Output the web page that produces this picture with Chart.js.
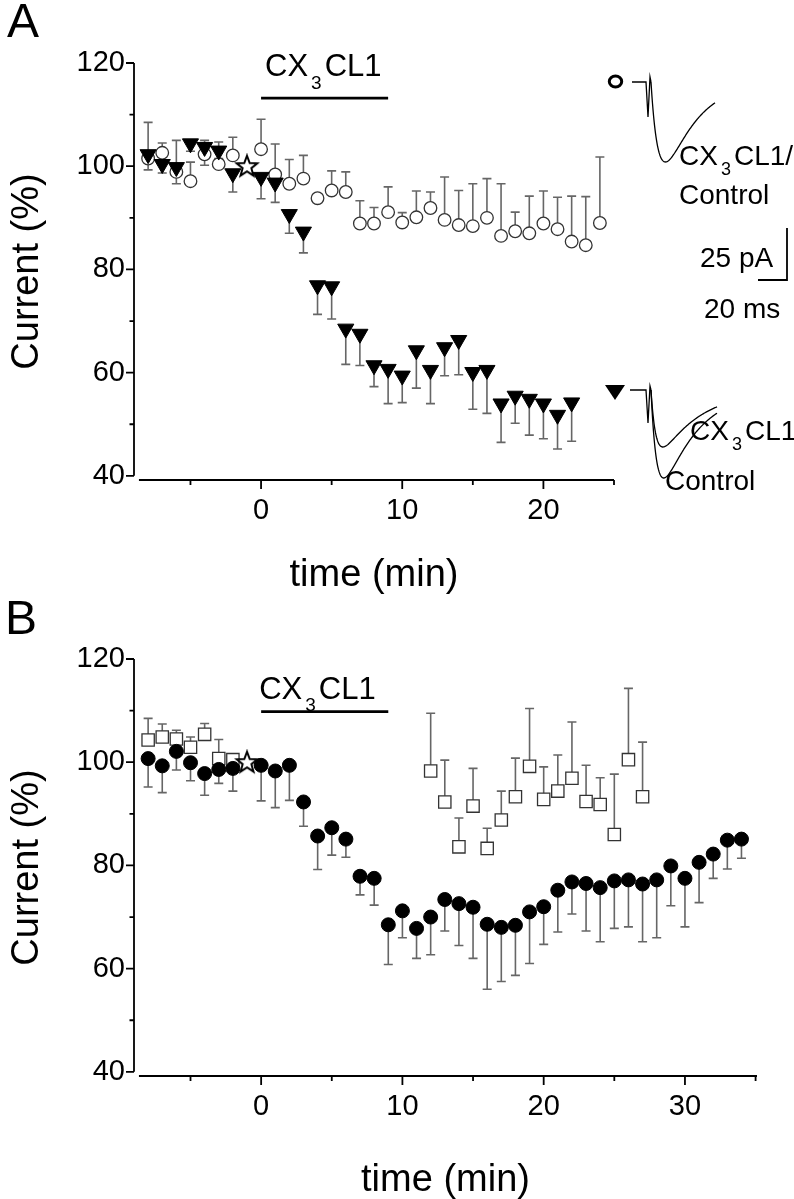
<!DOCTYPE html>
<html>
<head>
<meta charset="utf-8">
<script src="https://cdn.jsdelivr.net/npm/chart.js@4.4.1/dist/chart.umd.min.js"></script>
<style>
html, body { margin: 0; padding: 0; background: #fff; }
#wrap { position: relative; width: 794px; height: 1199px; overflow: hidden; }
.panel { position: absolute; left: 0; width: 794px; }
#panelA { top: 0; height: 620px; }
#panelB { top: 590px; height: 609px; }
</style>
</head>
<body>
<div id="wrap">
  <div class="panel" id="panelA"><canvas id="chartA"></canvas></div>
  <div class="panel" id="panelB"><canvas id="chartB"></canvas></div>
</div>
<script>
// ---- data ----
// panel A: filled triangles (error bars down)
const triTime = [-8,-7,-6,-5,-4,-3,-2,0,1,2,3,4,5,6,7,8,9,10,11,12,13,14,15,16,17,18,19,20,21,22];
const triMean = [102.3,100.4,99.8,104.4,103.7,103.0,98.6,97.9,96.8,90.7,87.3,76.9,76.7,68.5,67.5,61.4,60.7,59.4,64.3,60.5,64.9,66.3,60.1,60.5,54.0,55.5,54.9,54.0,51.8,54.2];
const triErr  = [3.0,1.7,3.2,1.5,3.5,1.5,3.6,4.2,3.8,3.7,4.1,5.6,6.3,6.9,6.1,4.1,6.7,5.2,7.3,6.5,5.5,6.7,7.2,8.4,7.5,5.3,7.0,6.8,6.6,7.5];

// panel A: open circles (error bars up)
const ringTime = [-8,-7,-6,-5,-4,-3,-2,0,1,2,3,4,5,6,7,8,9,10,11,12,13,14,15,16,17,18,19,20,21,22,23,24];
const ringMean = [101.5,102.6,98.9,97.1,102.3,100.4,102.1,103.3,98.4,96.6,97.6,93.8,95.3,95.0,88.9,88.9,91.1,89.1,90.1,91.9,89.6,88.6,88.4,90.0,86.5,87.4,87.0,88.9,87.8,85.4,84.7,89.0];
const ringErr  = [7.0,1.9,6.1,3.7,2.7,4.3,3.5,5.8,5.9,4.7,4.5,0.8,3.8,3.9,4.4,3.1,4.9,1.9,5.1,3.1,8.3,6.7,8.2,7.6,10.1,3.7,7.2,6.3,6.2,8.8,9.4,12.8];

// panel B: filled circles (error bars down)
const dotTime = [-8,-7,-6,-5,-4,-3,-2,0,1,2,3,4,5,6,7,8,9,10,11,12,13,14,15,16,17,18,19,20,21,22,23,24,25,26,27,28,29,30,31,32,33,34];
const dotMean = [100.7,99.3,102.1,99.9,97.8,98.6,98.8,99.4,98.3,99.4,92.3,85.7,87.3,85.1,77.9,77.5,68.5,71.2,67.8,70.0,73.4,72.6,71.9,68.6,68.0,68.4,71.0,72.0,75.2,76.8,76.5,75.7,77.0,77.2,76.4,77.2,79.9,77.5,80.6,82.2,84.9,85.1];
const dotErr  = [5.5,5.2,3.6,3.5,4.2,2.7,4.4,6.9,7.1,6.8,4.7,6.5,5.3,3.5,3.6,5.2,7.7,5.2,5.8,7.3,6.1,8.1,9.9,12.6,10.5,9.7,10.0,7.3,8.1,6.2,9.2,10.5,9.2,9.1,11.2,11.2,7.7,9.4,7.8,4.7,5.6,3.7];

// panel B: open squares (error bars up)
const boxTime = [-8,-7,-6,-5,-4,-3,-2,12,13,14,15,16,17,18,19,20,21,22,23,24,25,26,27];
const boxMean = [104.3,104.9,104.5,102.9,105.4,100.7,100.5,98.3,92.3,83.6,91.5,83.3,88.8,93.3,99.2,92.8,94.4,96.9,92.4,91.8,86.0,100.5,93.3];
const boxErr  = [4.2,2.5,1.7,2.0,2.1,3.7,0,11.2,8.1,5.6,7.3,3.9,5.6,7.5,11.2,6.3,7.0,10.9,7.0,5.2,11.7,13.8,10.6];

// normalisation point (star)
const starTime = [-1];
const starMean = [100];

// CX3CL1 application window (min)
const drugOn = [0, 9];

// ticks
const yTicks  = [40, 60, 80, 100, 120];
const yMinor  = [50, 70, 90, 110];
const xTicksA = [0, 10, 20];
const xMinorA = [-5, 5, 15, 25];
const xTicksB = [0, 10, 20, 30];
const xMinorB = [-5, 5, 15, 25, 35];

const FONT = "'Liberation Sans', Arial, Helvetica, sans-serif";

const pts = (t, v) => t.map((x, i) => ({ x, y: v[i] }));

// outlined five point star used as marker
function makeStar() {
  const c = document.createElement('canvas');
  c.width = 26; c.height = 26;
  const g = c.getContext('2d');
  g.beginPath();
  for (let k = 0; k < 10; k++) {
    const r = k % 2 ? 4.6 : 11;
    const a = -Math.PI / 2 + k * Math.PI / 5;
    g.lineTo(13 + r * Math.cos(a), 13.5 + r * Math.sin(a));
  }
  g.closePath();
  g.fillStyle = '#fff'; g.fill();
  g.lineWidth = 2; g.strokeStyle = '#000'; g.stroke();
  return c;
}
const star = makeStar();

// error bars, drawn under the markers
const errorBars = {
  id: 'errorBars',
  beforeDatasetsDraw(chart) {
    const { ctx, scales: { x, y } } = chart;
    ctx.save();
    ctx.strokeStyle = '#666';
    ctx.lineWidth = 1.6;
    chart.data.datasets.forEach(ds => {
      if (!ds.err) return;
      ds.data.forEach((p, i) => {
        const e = ds.err[i];
        if (!e) return;
        const px = x.getPixelForValue(p.x);
        const p0 = y.getPixelForValue(p.y);
        const p1 = y.getPixelForValue(p.y + ds.errDir * e);
        ctx.beginPath();
        ctx.moveTo(px, p0); ctx.lineTo(px, p1);
        ctx.moveTo(px - 4.5, p1); ctx.lineTo(px + 4.5, p1);
        ctx.stroke();
      });
    });
    ctx.restore();
  }
};

// Origin-style detached axes with major/minor ticks
const offsetAxes = {
  id: 'offsetAxes',
  afterDraw(chart, args, o) {
    const { ctx, chartArea: a, scales: { x, y } } = chart;
    ctx.save();
    ctx.strokeStyle = '#000';
    ctx.lineWidth = 1.8;
    ctx.beginPath();
    ctx.moveTo(a.left, y.getPixelForValue(120));
    ctx.lineTo(a.left, y.getPixelForValue(40));
    yTicks.forEach(v => { const p = y.getPixelForValue(v); ctx.moveTo(a.left, p); ctx.lineTo(a.left - 8, p); });
    yMinor.forEach(v => { const p = y.getPixelForValue(v); ctx.moveTo(a.left, p); ctx.lineTo(a.left - 4.5, p); });
    ctx.moveTo(x.getPixelForValue(o.from), a.bottom);
    ctx.lineTo(x.getPixelForValue(o.to), a.bottom);
    o.major.forEach(v => { const p = x.getPixelForValue(v); ctx.moveTo(p, a.bottom); ctx.lineTo(p, a.bottom + 9); });
    o.minor.forEach(v => { const p = x.getPixelForValue(v); ctx.moveTo(p, a.bottom); ctx.lineTo(p, a.bottom + 5); });
    ctx.stroke();
    ctx.restore();
  }
};

// text runs like CX + sub 3 + CL1
function subText(ctx, x, y, big, sub, rest, size, subSize, drop) {
  ctx.font = size + 'px ' + FONT;
  ctx.fillText(big, x, y);
  x += ctx.measureText(big).width + 3;
  ctx.font = subSize + 'px ' + FONT;
  ctx.fillText(sub, x, y + drop);
  x += ctx.measureText(sub).width + 3;
  ctx.font = size + 'px ' + FONT;
  ctx.fillText(rest, x, y);
}

// synaptic current shape for the inset traces
function trace(ctx, x0, base, amp, len, tr, td) {
  const f = t => Math.exp(-t / td) - Math.exp(-t / tr);
  const tp = Math.log(td / tr) * td * tr / (td - tr);
  const fm = f(tp);
  ctx.moveTo(x0, base);
  for (let t = 0; t <= len; t += 0.5) ctx.lineTo(x0 + t, base + amp * f(t) / fm);
}

const annotate = {
  id: 'annotate',
  afterDraw(chart, args, o) {
    const { ctx, scales: { x, y } } = chart;
    ctx.save();
    ctx.fillStyle = '#000';
    ctx.strokeStyle = '#000';
    ctx.textBaseline = 'alphabetic';
    // panel letter
    ctx.font = '48px ' + FONT;
    ctx.fillText(o.letter, o.letterX, o.letterY);
    // drug bar
    const bx0 = x.getPixelForValue(drugOn[0]);
    const bx1 = x.getPixelForValue(drugOn[1]);
    const by = y.getPixelForValue(o.barLevel);
    ctx.lineWidth = 2.6;
    ctx.beginPath(); ctx.moveTo(bx0, by); ctx.lineTo(bx1, by); ctx.stroke();
    subText(ctx, bx0 + o.textDx, by - o.textRise, 'CX', '3', 'CL1', 31, 19, o.subDrop);

    if (o.inset) {
      // inset markers
      ctx.lineWidth = 3;
      ctx.beginPath(); ctx.ellipse(615.5, 81.5, 6.2, 5.6, 0, 0, Math.PI * 2); ctx.stroke();
      ctx.beginPath(); ctx.moveTo(605, 385); ctx.lineTo(625, 385); ctx.lineTo(615, 400); ctx.closePath(); ctx.fill();
      // traces
      ctx.lineWidth = 1.3;
      ctx.beginPath();
      ctx.moveTo(632, 82); ctx.lineTo(646, 82); ctx.lineTo(648, 117); ctx.lineTo(650, 77); ctx.lineTo(651, 82);
      trace(ctx, 651, 82, 80, 64, 8, 30);
      ctx.stroke();
      ctx.beginPath();
      ctx.moveTo(630, 390); ctx.lineTo(646, 390); ctx.lineTo(648, 423); ctx.lineTo(650, 386); ctx.lineTo(651, 390);
      trace(ctx, 651, 390, 57, 66, 5, 40);
      ctx.stroke();
      ctx.beginPath();
      trace(ctx, 651, 390, 88, 66, 6, 35);
      ctx.stroke();
      // labels
      subText(ctx, 679, 165, 'CX', '3', 'CL1/', 28, 18, 10);
      ctx.font = '28px ' + FONT;
      ctx.fillText('Control', 679, 204);
      ctx.fillText('25 pA', 700, 267);
      ctx.fillText('20 ms', 704, 318);
      subText(ctx, 690, 440, 'CX', '3', 'CL1', 28, 18, 10);
      ctx.fillText('Control', 665, 490);
      // scale bar
      ctx.lineWidth = 1.8;
      ctx.beginPath(); ctx.moveTo(787, 228); ctx.lineTo(787, 280); ctx.lineTo(758, 280); ctx.stroke();
    }
    ctx.restore();
  }
};

function makeChart(id, datasets, c) {
  return new Chart(document.getElementById(id), {
    type: 'scatter',
    data: { datasets },
    options: {
      responsive: true,
      maintainAspectRatio: false,
      animation: false,
      events: [],
      layout: { padding: { left: 0, top: c.padTop, right: c.padRight, bottom: 0 } },
      plugins: {
        legend: { display: false },
        tooltip: { enabled: false },
        offsetAxes: c.axes,
        annotate: c.notes
      },
      scales: {
        x: {
          type: 'linear', min: -9, max: c.xMax,
          afterBuildTicks: s => { s.ticks = c.xTicks.map(v => ({ value: v })); },
          afterFit: s => { s.height = c.xHeight; },
          grid: { display: false, drawTicks: false },
          border: { display: false },
          ticks: { font: { family: FONT, size: 29 }, color: '#000', padding: 14, maxRotation: 0, autoSkip: false },
          title: { display: true, text: 'time (min)', color: '#000', font: { family: FONT, size: 38 }, padding: { top: 0, bottom: c.titlePad } }
        },
        y: {
          min: 39.2, max: 120,
          afterBuildTicks: s => { s.ticks = yTicks.map(v => ({ value: v })); },
          afterFit: s => { s.width = 134; },
          grid: { display: false, drawTicks: false },
          border: { display: false },
          ticks: { font: { family: FONT, size: 29 }, color: '#000', padding: 9 },
          title: { display: true, text: 'Current (%)', color: '#000', font: { family: FONT, size: 38 }, padding: { top: 5, bottom: 0 } }
        }
      }
    },
    plugins: [errorBars, offsetAxes, annotate]
  });
}

const starSet = { data: pts(starTime, starMean), pointStyle: star, pointRadius: 11 };

// panel A canvas: 0..620 px, plot area 63..480
makeChart('chartA', [
  starSet,
  { data: pts(triTime, triMean), err: triErr, errDir: -1, pointStyle: 'triangle', rotation: 180,
    pointRadius: 9.3, backgroundColor: '#000', borderColor: '#000', borderWidth: 1 },
  { data: pts(ringTime, ringMean), err: ringErr, errDir: 1, pointStyle: 'circle',
    pointRadius: 6.3, backgroundColor: '#fff', borderColor: '#333', borderWidth: 1.3 }
], {
  padTop: 63, padRight: 180, xMax: 25, xTicks: xTicksA, xHeight: 140, titlePad: 22,
  axes: { from: -8.65, to: 25, major: xTicksA, minor: xMinorA },
  notes: { letter: 'A', letterX: 7, letterY: 37, barLevel: 113.2, textDx: 4, textRise: 21.6, subDrop: 13, inset: true }
});

// panel B canvas: 590..1199 px, plot area 659..1076
makeChart('chartB', [
  { ...starSet },
  { data: pts(dotTime, dotMean), err: dotErr, errDir: -1, pointStyle: 'circle',
    pointRadius: 7, backgroundColor: '#000', borderColor: '#000', borderWidth: 1 },
  { data: pts(boxTime, boxMean), err: boxErr, errDir: 1, pointStyle: 'rect',
    pointRadius: 8.7, backgroundColor: '#fff', borderColor: '#333', borderWidth: 1.3 }
], {
  padTop: 69, padRight: 37, xMax: 35.1, xTicks: xTicksB, xHeight: 123, titlePad: -4,
  axes: { from: -8.65, to: 35.1, major: xTicksB, minor: xMinorB },
  notes: { letter: 'B', letterX: 5, letterY: 44, barLevel: 109.8, textDx: -2, textRise: 12.4, subDrop: 12, inset: false }
});
</script>
</body>
</html>
